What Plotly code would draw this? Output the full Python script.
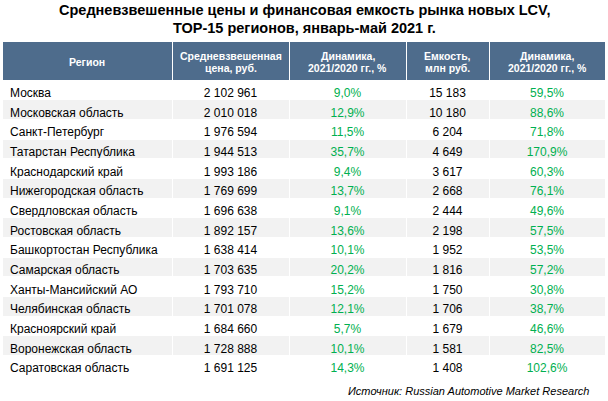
import plotly.graph_objects as go

regions = ["Москва", "Московская область", "Санкт-Петербург", "Татарстан Республика",
           "Краснодарский край", "Нижегородская область", "Свердловская область",
           "Ростовская область", "Башкортостан Республика", "Самарская область",
           "Ханты-Мансийский АО", "Челябинская область", "Красноярский край",
           "Воронежская область", "Саратовская область"]
avg_price = [2102961, 2010018, 1976594, 1944513, 1993186, 1769699, 1696638, 1892157,
             1638414, 1703635, 1793710, 1701078, 1684660, 1728888, 1691125]
price_dyn = [9.0, 12.9, 11.5, 35.7, 9.4, 13.7, 9.1, 13.6, 10.1, 20.2, 15.2, 12.1, 5.7, 10.1, 14.3]
capacity = [15183, 10180, 6204, 4649, 3617, 2668, 2444, 2198, 1952, 1816, 1750, 1706, 1679, 1581, 1408]
cap_dyn = [59.5, 88.6, 71.8, 170.9, 60.3, 76.1, 49.6, 57.5, 53.5, 57.2, 30.8, 38.7, 46.6, 82.5, 102.6]

headers = [["Регион"], ["Средневзвешенная", "цена, руб."], ["Динамика,", "2021/2020 гг., %"],
           ["Емкость,", "млн руб."], ["Динамика,", "2021/2020 гг., %"]]
title_lines = ["Средневзвешенные цены и финансовая емкость рынка новых LCV,",
               "ТОР-15 регионов, январь-май 2021 г."]
source = "Источник: Russian Automotive Market Research"


def fmt_int(v):
    return f"{v:,}".replace(",", " ")


def fmt_pct(v):
    return f"{v:.1f}%".replace(".", ",")


W, H = 608, 401
GREEN = "#00B050"
HEAD = "#4E6C8C"
FONT = "Liberation Sans, Arial, sans-serif"
X0, X1 = 2, 605
TOP, HEAD_H, ROW_H = 41, 39, 19.67
colw = [170, 117, 117, 83, 116]
n = len(regions)
row_fill = ["#FFFFFF" if i % 2 == 0 else "#F2F2F2" for i in range(n)]

fig = go.Figure(go.Table(
    domain=dict(x=[X0 / W, X1 / W], y=[0, 1 - TOP / H]),
    columnwidth=colw,
    header=dict(
        values=[""] * len(headers),
        fill_color=HEAD,
        line=dict(color="white", width=1),
        font=dict(family=FONT, size=10, color="white"),
        height=HEAD_H,
    ),
    cells=dict(
        values=[regions,
                [fmt_int(v) for v in avg_price],
                [fmt_pct(v) for v in price_dyn],
                [fmt_int(v) for v in capacity],
                [fmt_pct(v) for v in cap_dyn]],
        fill_color=[row_fill] * 5,
        line=dict(color="white", width=1),
        font=dict(family=FONT, size=12,
                  color=["black", "black", GREEN, "black", GREEN]),
        align=["left", "center", "center", "center", "center"],
        height=ROW_H,
    ),
))

# header labels
left = X0
for w, lines in zip(colw, headers):
    cx = left + w / 2
    left += w
    k = len(lines)
    for j, line in enumerate(lines):
        cy = 62 + (j - (k - 1) / 2) * 12.6
        fig.add_annotation(text=f"<b>{line}</b>", x=cx / W, y=1 - cy / H,
                           xref="paper", yref="paper", xanchor="center", yanchor="middle",
                           showarrow=False, font=dict(family=FONT, size=10.5, color="white"))

for line, cy in zip(title_lines, [10, 28]):
    fig.add_annotation(text=f"<b>{line}</b>", x=304 / W, y=1 - cy / H,
                       xref="paper", yref="paper", xanchor="center", yanchor="middle",
                       showarrow=False, font=dict(family=FONT, size=14.5, color="black"))

fig.add_annotation(
    text=f"<i>{source}</i>",
    x=591 / W, y=1 - 391 / H, xref="paper", yref="paper", xanchor="right", yanchor="middle",
    showarrow=False, font=dict(family=FONT, size=11, color="black"),
)

fig.update_layout(width=W, height=H, margin=dict(l=0, r=0, t=0, b=0),
                  paper_bgcolor="white", plot_bgcolor="white")
fig.write_html("out.html", config={"displayModeBar": False},
               post_script="document.body.style.margin='0px';")
